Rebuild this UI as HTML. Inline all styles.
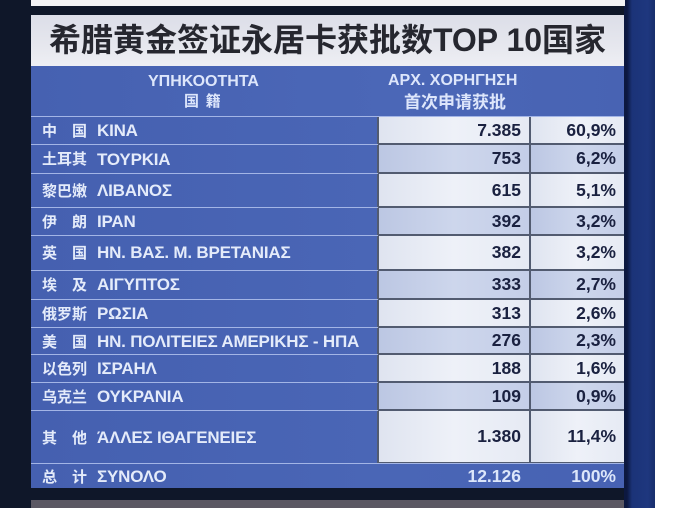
<!DOCTYPE html>
<html><head><meta charset="utf-8">
<style>
*{margin:0;padding:0;box-sizing:border-box}
html,body{width:693px;height:508px;overflow:hidden;background:#fff}
body{position:relative;font-family:"Liberation Sans","Noto Sans CJK SC",sans-serif}
.a{position:absolute}
.cn{position:absolute;left:42px;width:45px;display:flex;justify-content:space-between;font-family:"Noto Sans CJK SC",sans-serif;font-size:15px;font-weight:700;color:#e4ebfa;line-height:1}
.gr{position:absolute;left:97px;font-size:17px;font-weight:700;color:#e4ebfa;letter-spacing:-0.2px;line-height:1;white-space:nowrap}
.cell{position:absolute;font-size:17.5px;font-weight:700;color:#1a2140;text-align:right;display:flex;align-items:center;justify-content:flex-end;padding-right:8px}
.L{background:linear-gradient(90deg,#dfe4f0,#eef1f8 50%,#e6eaf4)}
.B{background:linear-gradient(90deg,#bcc7e3,#cdd6ec 50%,#c4cee8)}
.line{position:absolute;left:31px;width:347px;height:1px;background:#a3b5e6}
</style></head><body>
<!-- backgrounds -->
<div class="a" style="left:0;top:0;width:655px;height:508px;background:#0f1729"></div>
<div class="a" style="left:624px;top:0;width:31px;height:508px;background:linear-gradient(90deg,#0c1840 0,#0c1840 3px,#1b3378 8px,#1e377e 24px,#182e6c 31px)"></div>
<div class="a" style="left:31px;top:0;width:594px;height:6px;background:#f3f3f5"></div>
<!-- title -->
<div class="a" style="left:31px;top:15px;width:593px;height:51px;background:linear-gradient(180deg,#dcdee8,#e6e7ee 60%,#eeeff4)"></div>
<div class="a" style="left:31px;top:15px;width:593px;height:51px;text-align:center;line-height:51px;font-family:'Liberation Sans','Noto Sans CJK SC',sans-serif;font-weight:700;font-size:32px;color:#26272f;white-space:nowrap">希腊黄金签证永居卡获批数TOP 10国家</div>
<!-- header -->
<div class="a" style="left:31px;top:66px;width:593px;height:50px;background:linear-gradient(90deg,#4661b1,#4b67b7 60%,#4863b3)"></div>
<div class="a" style="left:148px;top:74px;font-size:16px;font-weight:700;color:#dde6fb;white-space:nowrap;line-height:16px">ΥΠΗΚΟΟΤΗΤΑ</div>
<div class="a" style="left:184px;top:93px;font-family:'Noto Sans CJK SC',sans-serif;font-size:15px;font-weight:700;color:#dde6fb;line-height:15px;white-space:nowrap">国&nbsp;&nbsp;籍</div>
<div class="a" style="left:388px;top:73px;font-size:16px;font-weight:700;color:#dde6fb;white-space:nowrap;line-height:16px">ΑΡΧ. ΧΟΡΗΓΗΣΗ</div>
<div class="a" style="left:404px;top:92px;font-family:'Noto Sans CJK SC',sans-serif;font-size:17px;font-weight:700;color:#dde6fb;line-height:17px;white-space:nowrap">首次申请获批</div>
<!-- body left column -->
<div class="a" style="left:31px;top:116px;width:593px;height:372px;background:linear-gradient(90deg,#4560b0,#4a66b6 60%,#4762b3)"></div>
<!-- value area dark backing -->
<div class="a" style="left:377px;top:116px;width:247px;height:347px;background:#525b70"></div>
<div class="a" style="left:31px;top:116px;width:593px;height:1px;background:#a3b5e6"></div>

<div class="line" style="top:144px"></div>
<div class="line" style="top:173px"></div>
<div class="line" style="top:207px"></div>
<div class="line" style="top:235px"></div>
<div class="line" style="top:270px"></div>
<div class="line" style="top:299px"></div>
<div class="line" style="top:327px"></div>
<div class="line" style="top:354px"></div>
<div class="line" style="top:382px"></div>
<div class="line" style="top:410px"></div>
<div class="a" style="left:31px;top:463px;width:593px;height:1px;background:#a3b5e6"></div>

<!-- rows -->
<div class="cn" style="top:123px"><span>中</span><span>国</span></div><div class="gr" style="top:122px">ΚΙΝΑ</div>
<div class="cell L" style="left:379px;top:117px;width:150px;height:26px">7.385</div>
<div class="cell L" style="left:531px;top:117px;width:93px;height:26px">60,9%</div>

<div class="cn" style="top:151px"><span>土耳其</span></div><div class="gr" style="top:151px">ΤΟΥΡΚΙΑ</div>
<div class="cell B" style="left:379px;top:145px;width:150px;height:27px">753</div>
<div class="cell B" style="left:531px;top:145px;width:93px;height:27px">6,2%</div>

<div class="cn" style="top:183px"><span>黎巴嫩</span></div><div class="gr" style="top:182px">ΛΙΒΑΝΟΣ</div>
<div class="cell L" style="left:379px;top:174px;width:150px;height:32px">615</div>
<div class="cell L" style="left:531px;top:174px;width:93px;height:32px">5,1%</div>

<div class="cn" style="top:214px"><span>伊</span><span>朗</span></div><div class="gr" style="top:213px">ΙΡΑΝ</div>
<div class="cell B" style="left:379px;top:208px;width:150px;height:26px">392</div>
<div class="cell B" style="left:531px;top:208px;width:93px;height:26px">3,2%</div>

<div class="cn" style="top:245px"><span>英</span><span>国</span></div><div class="gr" style="top:244px">ΗΝ. ΒΑΣ. Μ. ΒΡΕΤΑΝΙΑΣ</div>
<div class="cell L" style="left:379px;top:236px;width:150px;height:33px">382</div>
<div class="cell L" style="left:531px;top:236px;width:93px;height:33px">3,2%</div>

<div class="cn" style="top:277px"><span>埃</span><span>及</span></div><div class="gr" style="top:276px">ΑΙΓΥΠΤΟΣ</div>
<div class="cell B" style="left:379px;top:271px;width:150px;height:27px">333</div>
<div class="cell B" style="left:531px;top:271px;width:93px;height:27px">2,7%</div>

<div class="cn" style="top:306px"><span>俄罗斯</span></div><div class="gr" style="top:305px">ΡΩΣΙΑ</div>
<div class="cell L" style="left:379px;top:300px;width:150px;height:26px">313</div>
<div class="cell L" style="left:531px;top:300px;width:93px;height:26px">2,6%</div>

<div class="cn" style="top:334px"><span>美</span><span>国</span></div><div class="gr" style="top:333px">ΗΝ. ΠΟΛΙΤΕΙΕΣ ΑΜΕΡΙΚΗΣ - ΗΠΑ</div>
<div class="cell B" style="left:379px;top:328px;width:150px;height:25px">276</div>
<div class="cell B" style="left:531px;top:328px;width:93px;height:25px">2,3%</div>

<div class="cn" style="top:361px"><span>以色列</span></div><div class="gr" style="top:360px">ΙΣΡΑΗΛ</div>
<div class="cell L" style="left:379px;top:355px;width:150px;height:26px">188</div>
<div class="cell L" style="left:531px;top:355px;width:93px;height:26px">1,6%</div>

<div class="cn" style="top:389px"><span>乌克兰</span></div><div class="gr" style="top:388px">ΟΥΚΡΑΝΙΑ</div>
<div class="cell B" style="left:379px;top:383px;width:150px;height:26px">109</div>
<div class="cell B" style="left:531px;top:383px;width:93px;height:26px">0,9%</div>

<div class="cn" style="top:430px"><span>其</span><span>他</span></div><div class="gr" style="top:429px">ΆΛΛΕΣ ΙΘΑΓΕΝΕΙΕΣ</div>
<div class="cell L" style="left:379px;top:411px;width:150px;height:51px">1.380</div>
<div class="cell L" style="left:531px;top:411px;width:93px;height:51px">11,4%</div>

<!-- total -->
<div class="cn" style="top:469px"><span>总</span><span>计</span></div><div class="gr" style="top:468px">ΣΥΝΟΛΟ</div>
<div class="cell" style="left:379px;top:464px;width:150px;height:24px;color:#dce6fa">12.126</div>
<div class="cell" style="left:531px;top:464px;width:93px;height:24px;color:#dce6fa">100%</div>

<!-- bottom box -->
<div class="a" style="left:31px;top:500px;width:593px;height:8px;background:#5b5863"></div>
</body></html>
